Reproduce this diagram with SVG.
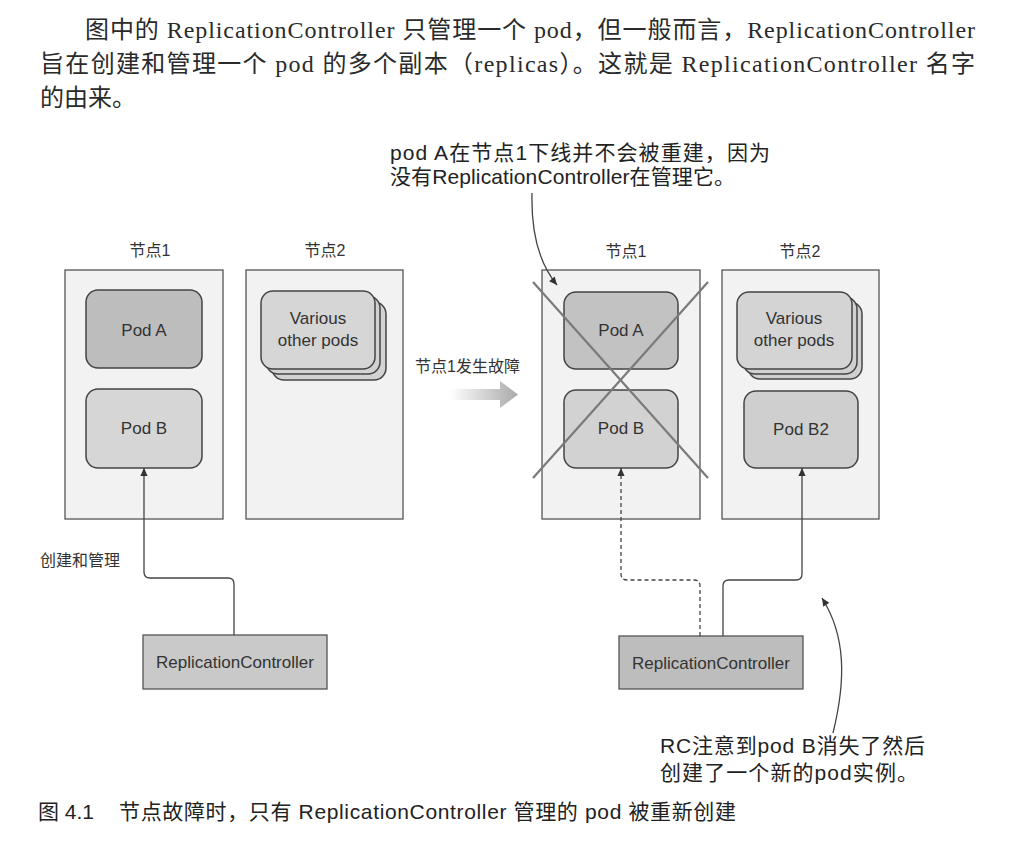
<svg xmlns="http://www.w3.org/2000/svg" width="1018" height="849" viewBox="0 0 1018 849">
<style>
.para{font-family:"Liberation Serif","Noto Sans CJK SC",serif;font-size:24px;fill:#2a2a2a}
.lbl{font-family:"Liberation Sans","Noto Sans CJK SC",sans-serif;font-size:16px;fill:#333}
.ann{font-family:"Liberation Sans","Noto Sans CJK SC",sans-serif;font-size:21px;fill:#222}
.cap{font-family:"Liberation Sans","Noto Sans CJK SC",sans-serif;font-size:21px;fill:#222}
.pt{font-family:"Liberation Sans","Noto Sans CJK SC",sans-serif;font-size:17px;fill:#333;text-anchor:middle}
.node{fill:#f2f2f2;stroke:#555;stroke-width:1.3}
.pod{stroke:#444;stroke-width:1.5}
.rc{stroke:#555;stroke-width:1.3}
.conn{fill:none;stroke:#444;stroke-width:1.3}
.cross{stroke:#7a7a7a;stroke-width:2.2}
</style>
<defs>
<marker id="arr" viewBox="0 0 10 10" refX="10" refY="5" markerWidth="9" markerHeight="8" markerUnits="userSpaceOnUse" orient="auto"><path d="M0,0.5 L10,5 L0,9.5 z" fill="#333"/></marker>
<linearGradient id="fade" x1="0" y1="0" x2="1" y2="0"><stop offset="0" stop-color="#ffffff"/><stop offset="1" stop-color="#a9a9a9"/></linearGradient>
</defs>
<rect width="1018" height="849" fill="#ffffff"/>

<g id="paragraph">
<text class="para" x="85" y="38" textLength="890" lengthAdjust="spacing">图中的 ReplicationController 只管理一个 pod，但一般而言，ReplicationController</text>
<text class="para" x="40" y="72" textLength="935" lengthAdjust="spacing">旨在创建和管理一个 pod 的多个副本（replicas）。这就是 ReplicationController 名字</text>
<text class="para" x="40" y="106">的由来。</text>
</g>

<g id="left-node1">
<text class="lbl" x="150" y="256" text-anchor="middle">节点1</text>
<rect class="node" x="65" y="270" width="158" height="249"/>
</g>
<g id="left-node2">
<text class="lbl" x="325" y="256" text-anchor="middle">节点2</text>
<rect class="node" x="246" y="270" width="157" height="249"/>
</g>
<g id="left-podA">
<rect class="pod" x="86" y="290" width="116" height="78" rx="12" fill="#bdbdbd"/>
<text class="pt" x="144" y="336">Pod A</text>
</g>
<g id="left-podB">
<rect class="pod" x="86" y="389" width="116" height="79" rx="12" fill="#d6d6d6"/>
<text class="pt" x="144" y="434">Pod B</text>
</g>
<g id="left-various">
<rect class="pod" x="272" y="302" width="114" height="78" rx="12" fill="#d2d2d2"/>
<rect class="pod" x="266" y="296" width="114" height="78" rx="12" fill="#d2d2d2"/>
<rect class="pod" x="261" y="291" width="114" height="78" rx="12" fill="#d6d6d6"/>
<text class="pt" x="318" y="324">Various</text>
<text class="pt" x="318" y="346">other pods</text>
</g>
<g id="left-rc">
<rect class="rc" x="143" y="635" width="184" height="54" fill="#c9c9c9"/>
<text class="pt" x="235" y="668">ReplicationController</text>
</g>
<text id="create-label" class="lbl" x="40" y="566">创建和管理</text>

<g id="transition">
<text class="lbl" x="415" y="372">节点1发生故障</text>
<path d="M450,389 H500 V381 L518,394.5 L500,408 V400 H450 z" fill="url(#fade)"/>
</g>

<g id="right-node1">
<text class="lbl" x="626" y="257" text-anchor="middle">节点1</text>
<rect class="node" x="542" y="270" width="158" height="249"/>
</g>
<g id="right-node2">
<text class="lbl" x="800" y="257" text-anchor="middle">节点2</text>
<rect class="node" x="722" y="270" width="157" height="249"/>
</g>
<g id="right-podA">
<rect class="pod" x="564" y="292" width="114" height="77" rx="12" fill="#c2c2c2"/>
<text class="pt" x="621" y="336">Pod A</text>
</g>
<g id="right-podB">
<rect class="pod" x="564" y="390" width="114" height="78" rx="12" fill="#d2d2d2"/>
<text class="pt" x="621" y="434">Pod B</text>
</g>
<g id="right-various">
<rect class="pod" x="748" y="302" width="114" height="77" rx="12" fill="#d0d0d0"/>
<rect class="pod" x="743" y="297" width="114" height="77" rx="12" fill="#d0d0d0"/>
<rect class="pod" x="737" y="292" width="115" height="77" rx="12" fill="#d4d4d4"/>
<text class="pt" x="794" y="324">Various</text>
<text class="pt" x="794" y="346">other pods</text>
</g>
<g id="right-podB2">
<rect class="pod" x="744" y="391" width="114" height="77" rx="12" fill="#cfcfcf"/>
<text class="pt" x="801" y="435">Pod B2</text>
</g>
<g id="cross">
<line class="cross" x1="533" y1="282" x2="708" y2="478"/>
<line class="cross" x1="708" y1="282" x2="533" y2="478"/>
</g>
<g id="right-rc">
<rect class="rc" x="619" y="636" width="184" height="53" fill="#bdbdbd"/>
<text class="pt" x="711" y="669">ReplicationController</text>
</g>

<g id="connectors">
<path class="conn" d="M234,635 V584 Q234,578 228,578 H150 Q144,578 144,572 V468" marker-end="url(#arr)"/>
<path class="conn" d="M700,636 V586 Q700,580 694,580 H627 Q621,580 621,574 V468" stroke-dasharray="4,3" marker-end="url(#arr)"/>
<path class="conn" d="M723,636 V586 Q723,580 729,580 H796 Q802,580 802,574 V468" marker-end="url(#arr)"/>
<path class="conn" d="M532,193 C531,232 538,262 557,285" marker-end="url(#arr)"/>
<path class="conn" d="M833,733 C846,680 846,636 822,598" marker-end="url(#arr)"/>
</g>

<g id="annotation-top">
<text class="ann" x="390" y="160" textLength="380" lengthAdjust="spacing">pod A在节点1下线并不会被重建，因为</text>
<text class="ann" x="390" y="184" textLength="345" lengthAdjust="spacing">没有ReplicationController在管理它。</text>
</g>
<g id="annotation-bottom">
<text class="ann" x="660" y="753" textLength="265" lengthAdjust="spacing">RC注意到pod B消失了然后</text>
<text class="ann" x="660" y="780" textLength="258" lengthAdjust="spacing">创建了一个新的pod实例。</text>
</g>

<g id="caption">
<text class="cap" x="38" y="819">图 4.1</text>
<text class="cap" x="119" y="819" textLength="617" lengthAdjust="spacing">节点故障时，只有 ReplicationController 管理的 pod 被重新创建</text>
</g>
</svg>
